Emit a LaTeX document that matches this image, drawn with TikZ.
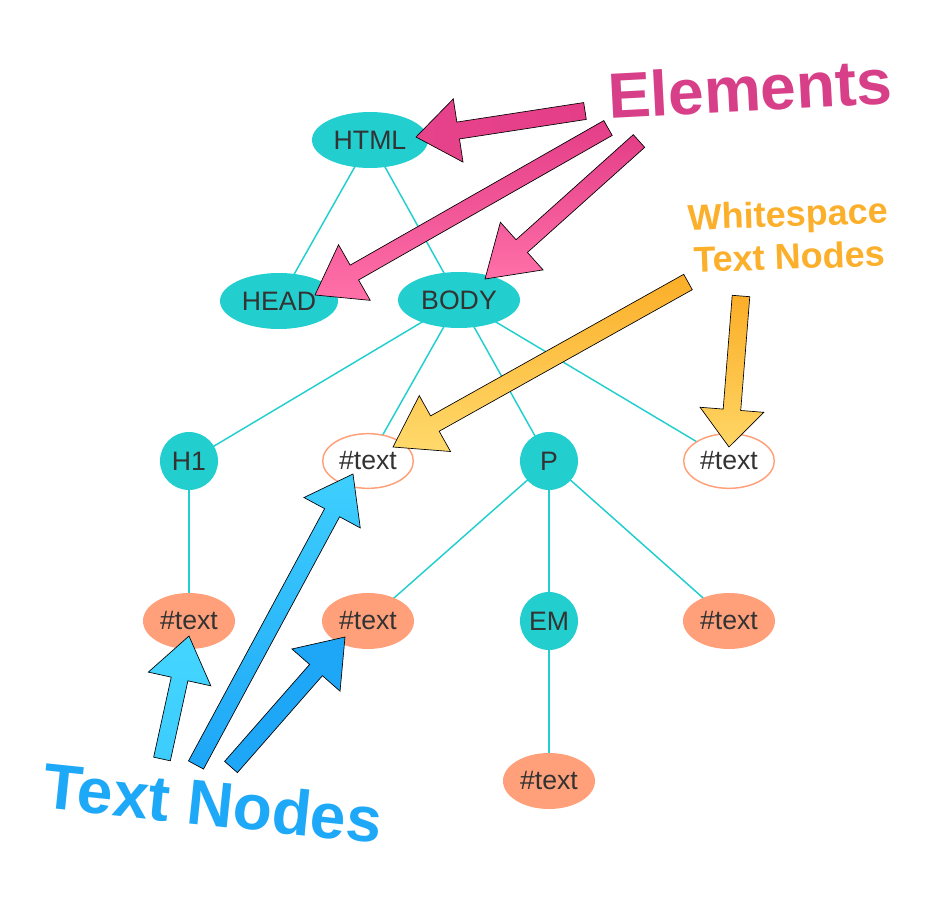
\documentclass[tikz,border=0pt]{standalone}
\usepackage{fontspec}
\setmainfont{Liberation Sans}
\usetikzlibrary{shapes.geometric,calc}
\definecolor{teal1}{RGB}{35,206,207}
\definecolor{salm}{RGB}{255,160,122}
\definecolor{txtc}{RGB}{51,51,51}
\definecolor{pinklab}{RGB}{215,64,137}
\definecolor{pinkD}{RGB}{228,62,136}
\definecolor{pinkL}{RGB}{255,112,168}
\definecolor{orlab}{RGB}{251,175,42}
\definecolor{orD}{RGB}{251,174,40}
\definecolor{orL}{RGB}{255,218,108}
\definecolor{bluelab}{RGB}{30,168,248}
\definecolor{blueD}{RGB}{30,166,247}
\definecolor{blueL}{RGB}{68,214,255}
\newcommand{\blockarr}[6]{%
  \coordinate (ba-n) at ($(#3)!#6!(#2)$);
  \path[#1] ($(#2)!#4!90:(#3)$) -- ($(ba-n)!#4!90:(#3)$) -- ($(ba-n)!#5!90:(#3)$)
    -- (#3) -- ($(ba-n)!#5!-90:(#3)$) -- ($(ba-n)!#4!-90:(#3)$) -- ($(#2)!#4!-90:(#3)$) -- cycle;}
\begin{document}
\begin{tikzpicture}[x=0.75pt,y=-0.75pt,
  every node/.style={font=\fontsize{20}{24}\selectfont, text=txtc, inner sep=0pt},
  elem/.style={ellipse, fill=teal1, minimum height=42pt},
  circ/.style={circle, fill=teal1, minimum size=43.5pt},
  txtfill/.style={ellipse, fill=salm, minimum width=69pt, minimum height=42pt},
  txtws/.style={ellipse, draw=salm, fill=white, line width=1.1pt, minimum width=68pt, minimum height=41pt},
  edge/.style={draw=teal1, line width=1.1pt},
  barr/.style={draw=black, line width=0.5pt},
  lab/.style={font=\fontsize{48}{56}\selectfont\bfseries}]
\useasboundingbox (0,0) rectangle (940,906);
% edges first
\coordinate (cHTML) at (370,140);
\coordinate (cHEAD) at (279,301);
\coordinate (cBODY) at (459,300);
\coordinate (cH1) at (189,461);
\coordinate (cTa) at (368,461);
\coordinate (cP) at (549,461);
\coordinate (cTb) at (729,461);
\coordinate (cTc) at (189,621);
\coordinate (cTd) at (368,621);
\coordinate (cEM) at (549,621);
\coordinate (cTe) at (729,621);
\coordinate (cTf) at (549,781);
\foreach \a/\b in {HTML/HEAD,HTML/BODY,BODY/H1,BODY/Ta,BODY/P,BODY/Tb,H1/Tc,P/Td,P/EM,P/Te,EM/Tf}
  \draw[edge] (c\a) -- (c\b);
% nodes
\node[elem, minimum width=87pt] (html) at (cHTML) {HTML};
\node[elem, minimum width=88.5pt] (head) at (cHEAD) {HEAD};
\node[elem, minimum width=91.5pt] (body) at (cBODY) {BODY};
\node[circ] (h1) at (cH1) {H1};
\node[txtws] (ta) at (cTa) {\#text};
\node[circ] (p) at (cP) {P};
\node[txtws] (tb) at (cTb) {\#text};
\node[txtfill] (tc) at (cTc) {\#text};
\node[txtfill] (td) at (cTd) {\#text};
\node[circ] (em) at (cEM) {EM};
\node[txtfill] (te) at (cTe) {\#text};
\node[txtfill] (tf) at (cTf) {\#text};
% labels
\node[lab, text=pinklab, rotate=3] (elements) at (750,88) {Elements};
\node[font=\fontsize{27}{32}\selectfont\bfseries, text=orlab, align=center, rotate=2] (ws) at (789,235) {Whitespace\\Text Nodes};
\node[lab, text=bluelab, rotate=-6] (tn) at (213,803) {Text Nodes};
% arrow coordinates
\coordinate (a1s) at (585,111); \coordinate (a1e) at (416,137);
\coordinate (a2s) at (608,128); \coordinate (a2e) at (315,295);
\coordinate (a3s) at (639,141); \coordinate (a3e) at (485,279);
\coordinate (a4s) at (688,282); \coordinate (a4e) at (393,447);
\coordinate (a5s) at (741,296); \coordinate (a5e) at (729,447);
\coordinate (a6s) at (162,759); \coordinate (a6e) at (189,636);
\coordinate (a7s) at (196,765); \coordinate (a7e) at (353,474);
\coordinate (a8s) at (231,767); \coordinate (a8e) at (345,637);
% arrows
\blockarr{barr, left color=pinkD!90!pinkL, right color=pinkD}{a1s}{a1e}{6.4pt}{24pt}{32pt}
\blockarr{barr, top color=pinkD, bottom color=pinkL}{a2s}{a2e}{6.4pt}{24pt}{34pt}
\blockarr{barr, top color=pinkD, bottom color=pinkL}{a3s}{a3e}{6.4pt}{24pt}{37pt}
\blockarr{barr, top color=orD, bottom color=orL}{a4s}{a4e}{6.6pt}{24pt}{36pt}
\blockarr{barr, top color=orD, bottom color=orL!90!orD}{a5s}{a5e}{6.6pt}{24pt}{28pt}
\blockarr{barr, top color=blueL, bottom color=blueL!80!blueD}{a6s}{a6e}{6.4pt}{24pt}{33pt}
\blockarr{barr, top color=blueL!85!blueD, bottom color=blueD}{a7s}{a7e}{6.4pt}{24pt}{33pt}
\blockarr{barr, fill=blueD}{a8s}{a8e}{6.4pt}{24pt}{33pt}
\end{tikzpicture}
\end{document}
